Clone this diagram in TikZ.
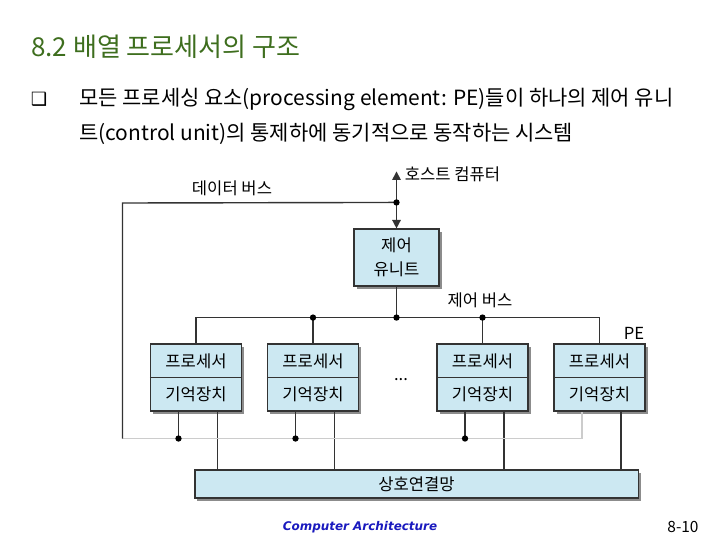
\documentclass[tikz,border=0pt]{standalone}
\usepackage{fontspec}
\setmainfont{Noto Sans CJK KR}
\newfontfamily\symfont{DejaVu Sans}
\newfontfamily\footfont{DejaVu Sans}
\usetikzlibrary{arrows.meta, positioning, calc, shadows}
\definecolor{boxblue}{RGB}{204,232,242}
\definecolor{titlegreen}{RGB}{62,110,30}
\definecolor{footblue}{RGB}{25,25,190}

\begin{document}
\begin{tikzpicture}[
  x=0.025cm, y=-0.025cm,
  unit/.style={
    draw=black!80,
    line width=0.8pt,
    rectangle,
    fill=boxblue,
    drop shadow={shadow xshift=1.8pt, shadow yshift=-1.8pt, fill=black!45, opacity=1},
    align=center,
    font=\fontsize{11.8}{17}\selectfont
  },
  bus/.style={line width=1pt, draw=black!80},
  lightbus/.style={line width=1pt, draw=black!20},
  hostline/.style={line width=1pt, draw=black!80, {Triangle[length=6pt,width=6pt]}-{Triangle[length=6pt,width=6pt]}},
  junction/.style={circle, fill=black, inner sep=0pt, minimum size=4.5pt},
  label/.style={font=\fontsize{11.8}{13}\selectfont, inner sep=0pt}
]
  \useasboundingbox (0,0) rectangle (720,540);

  % heading and text of the slide
  \node[anchor=west, text=titlegreen, font=\fontsize{18.5}{20}\selectfont, inner sep=0pt] (title) at (31,47) {8.2 배열 프로세서의 구조};
  \node[font=\symfont\fontsize{13}{13}\selectfont, inner sep=0pt] (bullet) at (39,99) {❑};
  \node[anchor=west, font=\fontsize{14.9}{17}\selectfont, inner sep=0pt] (line1) at (79,99) {모든 프로세싱 요소(processing element: PE)들이 하나의 제어 유니};
  \node[anchor=west, font=\fontsize{14.9}{17}\selectfont, inner sep=0pt] (line2) at (79,134) {트(control unit)의 통제하에 동기적으로 동작하는 시스템};

  % control unit and host computer
  \node[unit, minimum width=2.125cm, minimum height=1.425cm] (cu) at (396.5,257.5) {제어\\유니트};
  \coordinate (host) at ($(cu.north)+(0,-57)$);
  \coordinate (hostdot) at ($(cu.north)+(0,-26)$);
  \draw[hostline] (host) -- (cu.north);
  \node[label, anchor=west] (hostlabel) at ($(host)+(8,3)$) {호스트 컴퓨터};

  % processing elements
  \foreach \n/\px in {1/196, 2/313, 3/482.5, 4/599.5} {
    \node[unit, minimum width=2.275cm, minimum height=1.675cm] (pe\n) at (\px,377.5) {};
    \draw[bus] (pe\n.west) -- (pe\n.east);
    \node[label] (proc\n) at ($(pe\n.center)+(0,-16.5)$) {프로세서};
    \node[label] (mem\n) at ($(pe\n.center)+(0,16.5)$) {기억장치};
    \coordinate (pe\n-data) at ($(pe\n.south)+(-17.5,0)$);
    \coordinate (pe\n-net) at ($(pe\n.south)+(21.5,0)$);
  }
  \node[label] (dots) at (401,380) {...};
  \node[label] (pelabel) at (634,333) {PE};

  % interconnection network
  \node[unit, minimum width=11.075cm, minimum height=0.7cm] (net) at (416.5,484) {상호연결망};
  \foreach \n in {1,...,4}
    \draw[bus] (pe\n-net) -- (pe\n-net |- net.north);

  % control bus
  \coordinate (cjoin) at ($(cu.south)+(0,31)$);
  \draw[bus] (pe1.north) |- (cjoin) -| (pe4.north);
  \draw[bus] (cu.south) -- (cjoin) node[junction] {};
  \draw[bus] (pe2.north) -- (pe2.north |- cjoin) node[junction] {};
  \draw[bus] (pe3.north) -- (pe3.north |- cjoin) node[junction] {};
  \node[label] (ctrllabel) at (480,300) {제어 버스};

  % data bus
  \coordinate (dbleft) at (122.5,203);
  \coordinate (dbcorner) at (122.5,438.5);
  \draw[lightbus] (dbcorner) -- (pe4-data |- dbcorner) -- (pe4-data);
  \draw[bus] (hostdot) -- (dbleft) -- (dbcorner);
  \node[junction] at (hostdot) {};
  \foreach \n in {1,2,3}
    \draw[bus] (pe\n-data) -- (pe\n-data |- dbcorner) node[junction] {};
  \node[label] (datalabel) at (232,188) {데이터 버스};

  % footer
  \node[font=\footfont\bfseries\itshape\fontsize{8.5}{10}\selectfont, text=footblue] (course) at (360,527) {Computer Architecture};
  \node[font=\fontsize{11}{12}\selectfont] (page) at (683,527) {8-10};
\end{tikzpicture}
\end{document}
